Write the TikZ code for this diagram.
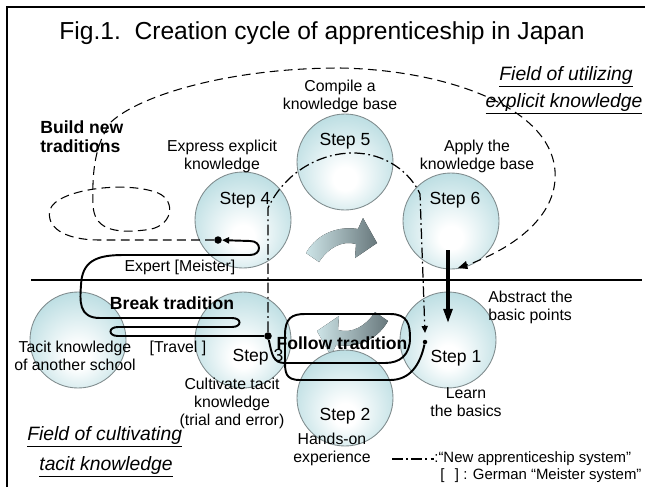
\documentclass[tikz,border=0pt]{standalone}
\usepackage{fontspec}
\setmainfont{Liberation Sans}
\usetikzlibrary{arrows.meta}

\definecolor{ballrim}{RGB}{152,204,211}
\definecolor{ballline}{RGB}{128,140,142}
\definecolor{swirllight}{RGB}{205,228,231}
\definecolor{swirldark}{RGB}{104,120,124}

\pgfdeclareradialshading{stepball}{\pgfpoint{0bp}{-10bp}}{%
  color(0bp)=(white); color(6bp)=(white);
  color(24bp)=(ballrim!50!white); color(42bp)=(ballrim); color(50bp)=(ballrim!88!black)}

\tikzset{
  ball/.style={circle, draw=ballline, line width=0.5pt, shading=stepball, minimum size=19.2mm, inner sep=0pt},
  steplabel/.style={font=\fontsize{10}{12}\selectfont, inner sep=0pt},
  note/.style={font=\fontsize{9}{10.2}\selectfont, align=center, inner sep=0pt},
  legendtext/.style={font=\fontsize{8.5}{10}\selectfont, inner sep=0pt},
  boldnote/.style={font=\fontsize{10}{11}\selectfont\bfseries, align=left, inner sep=0pt},
  field/.style={font=\fontsize{11}{13}\selectfont\itshape, inner sep=0pt},
  newsys/.style={line width=0.7pt, dash pattern=on 6pt off 2pt on 1pt off 2pt},
  meister/.style={line width=1.1pt},
  bigdash/.style={line width=0.6pt, dash pattern=on 5pt off 3pt},
  bigdot/.style={circle, fill=black, inner sep=0pt, minimum size=1.5mm},
  smalldot/.style={circle, fill=black, inner sep=0pt, minimum size=0.9mm},
  swirl/.style={left color=swirllight, right color=swirldark, draw=none}
}

\begin{document}
\begin{tikzpicture}[x=0.2mm, y=-0.2mm]
\useasboundingbox (0,0) rectangle (645,487);

% Frame and field border
\draw[line width=1.6pt] (7,487) -- (7,7) -- (645,7);
\draw[line width=0.6pt] (31,280) -- (642,280);

% Title
\node[font=\fontsize{14}{16}\selectfont, inner sep=0pt] (title) at (322,33) {Fig.1.\ \ Creation cycle of apprenticeship in Japan};

% Fields
\node[field] (fieldup1) at (566,77) {\underline{Field of utilizing}};
\node[field] (fieldup2) at (564,104) {\underline{explicit knowledge}};
\node[field, anchor=west] (fieldlow1) at (27,437) {\underline{Field of cultivating}};
\node[field] (fieldlow2) at (106,467) {\underline{tacit knowledge}};

% Turning arrows
\fill[swirl] (306,253) .. controls (318,232) and (340,226) .. (358,229) -- (363,218) -- (377,243)
  -- (355,258) -- (356,244) .. controls (342,240) and (328,248) .. (319,262) -- cycle;
\fill[swirl] (388,321) .. controls (376,342) and (354,348) .. (336,345) -- (331,356) -- (317,331)
  -- (339,316) -- (338,330) .. controls (352,334) and (366,326) .. (375,312) -- cycle;

% Spheres
\node[ball] (s5) at (345,162) {};
\node[ball] (s4) at (243,220) {};
\node[ball] (s6) at (451,221) {};
\node[ball] (other) at (78,340) {};
\node[ball] (s3) at (243,340) {};
\node[ball] (s1) at (448,340) {};
\node[ball] (s2) at (345,398) {};

\node[steplabel] (t5) at (345,141) {Step 5};
\node[steplabel] (t4) at (245,200) {Step 4};
\node[steplabel] (t6) at (455,200) {Step 6};
\node[steplabel] (t3) at (258,357) {Step 3};
\node[steplabel] (t1) at (456,358) {Step 1};
\node[steplabel] (t2) at (345,416) {Step 2};

% Dots
\node[bigdot] (d4) at (218,240) {};
\node[bigdot] (d3) at (268,336) {};
\node[smalldot] (d1) at (425,342) {};
\coordinate (applyend) at (458,268);
\coordinate (abstop) at (448,250);
\coordinate (absend) at (448,323);

% New apprenticeship system
\draw[newsys, -{Triangle[length=4pt,width=3.5pt]}] (d3) -- (268,208)
  .. controls (285,172) and (320,153) .. (353,153)
  .. controls (385,153) and (410,172) .. (420,194) -- (425,333);

% Build new traditions
\draw[bigdash] (d4) -- (100,240) .. controls (62,240) and (46,226) .. (50,210)
  .. controls (55,190) and (125,180) .. (158,193)
  .. controls (177,201) and (173,228) .. (145,230)
  .. controls (112,234) and (94,228) .. (93,205)
  .. controls (92,170) and (95,145) .. (111,122)
  .. controls (140,95) and (230,68) .. (340,68)
  .. controls (450,70) and (560,110) .. (555,180)
  .. controls (552,225) and (500,255) .. (applyend);
\fill (applyend) -- ++(8,-7) -- ++(2,8) -- cycle;

% Break tradition / Meister
\draw[meister, -{Triangle[length=4pt,width=3.5pt]}] (d3) -- (118,336)
  .. controls (108,336) and (108,327) .. (118,327) -- (232,327)
  .. controls (242,327) and (242,318) .. (232,318) -- (100,318)
  .. controls (78,318) and (80,300) .. (81,285)
  .. controls (82,262) and (95,255) .. (123,255) -- (250,255)
  .. controls (262,255) and (262,241) .. (250,241) -- (d4);

% Follow tradition
\draw[meister] (d1) .. controls (420,365) and (410,380) .. (390,380) -- (300,380)
  .. controls (285,380) and (285,372) .. (285,360) -- (285,335)
  .. controls (285,318) and (292,314) .. (305,314) -- (390,314)
  .. controls (408,314) and (410,325) .. (410,338)
  .. controls (410,355) and (400,363) .. (385,363) -- (285,363)
  .. controls (273,363) and (272,355) .. (d3);

% Abstract
\draw[line width=1.8pt, -{Triangle[length=8pt,width=5pt]}] (abstop) -- (absend);

% Labels
\node[note] (compile) at (340,96) {Compile a\\knowledge base};
\node[note] (express) at (222,156) {Express explicit\\knowledge};
\node[note] (apply) at (477,156) {Apply the\\knowledge base};
\node[boldnote, anchor=west] (build) at (40,137) {Build new\\traditions};
\node[note] (expert) at (180,267) {Expert [Meister]};
\node[note, align=left, anchor=west] (abstract) at (488,307) {Abstract the\\basic points};
\node[boldnote] (break) at (172,303) {Break tradition};
\node[note] (tacit) at (75,356) {Tacit knowledge\\of another school};
\node[note] (travel) at (178,348) {[Travel ]};
\node[boldnote] (follow) at (342,343) {Follow tradition};
\node[note] (cultivate) at (232,403) {Cultivate tacit\\knowledge\\(trial and error)};
\node[note] (hands) at (332,449) {Hands-on\\experience};
\node[note] (learn) at (466,402) {Learn\\the basics};

% Legend
\draw[newsys] (392,459) -- (434,459);
\node[legendtext, anchor=west] (legend1) at (434,459) {:“New apprenticeship system”};
\node[legendtext, anchor=west] (legend2) at (440,476) {[\hspace{0.7em}] : German “Meister system”};
\end{tikzpicture}
\end{document}
